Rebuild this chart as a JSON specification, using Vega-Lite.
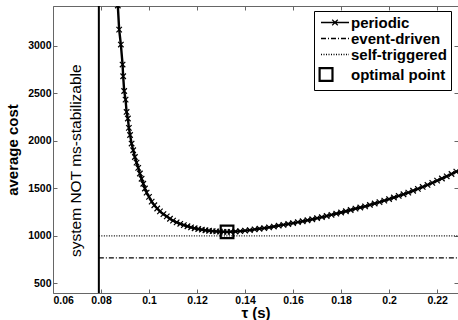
{
  "$schema": "https://vega.github.io/schema/vega-lite/v6.json",
  "width": 405,
  "height": 287,
  "autosize": {"type": "none"},
  "padding": {"left": 53, "top": 6, "right": 0, "bottom": 27},
  "background": "white",
  "config": {
    "view": {"stroke": null},
    "font": "Liberation Sans",
    "axis": {
      "labelFont": "Liberation Sans",
      "labelFontSize": 10.5,
      "labelFontWeight": "bold",
      "labelColor": "black",
      "titleFont": "Liberation Sans",
      "titleFontSize": 15,
      "titleFontWeight": "bold",
      "titleColor": "black",
      "domainColor": "#666",
      "tickColor": "#666",
      "tickSize": -4,
      "grid": false
    }
  },
  "datasets": {
    "periodic": [
      {"tau": 0.0866, "cost": 3560}, {"tau": 0.0870, "cost": 3420}, {"tau": 0.08756, "cost": 3167},
      {"tau": 0.08827, "cost": 3010}, {"tau": 0.08898, "cost": 2800}, {"tau": 0.08923, "cost": 2677},
      {"tau": 0.08965, "cost": 2522}, {"tau": 0.09023, "cost": 2432}, {"tau": 0.09065, "cost": 2302},
      {"tau": 0.09119, "cost": 2233}, {"tau": 0.09161, "cost": 2134}, {"tau": 0.0921, "cost": 2060},
      {"tau": 0.09274, "cost": 1970}, {"tau": 0.0934, "cost": 1900}, {"tau": 0.09411, "cost": 1829},
      {"tau": 0.0948, "cost": 1770}, {"tau": 0.0955, "cost": 1715}, {"tau": 0.0962, "cost": 1655},
      {"tau": 0.0969, "cost": 1600}, {"tau": 0.0976, "cost": 1548}, {"tau": 0.09829, "cost": 1498},
      {"tau": 0.0990, "cost": 1455}, {"tau": 0.1000, "cost": 1410}, {"tau": 0.1011, "cost": 1360},
      {"tau": 0.1022, "cost": 1322}, {"tau": 0.1034, "cost": 1288}, {"tau": 0.10455, "cost": 1257},
      {"tau": 0.1060, "cost": 1228}, {"tau": 0.1074, "cost": 1205}, {"tau": 0.10873, "cost": 1180},
      {"tau": 0.1100, "cost": 1160}, {"tau": 0.1115, "cost": 1142}, {"tau": 0.1130, "cost": 1127},
      {"tau": 0.1145, "cost": 1113}, {"tau": 0.1160, "cost": 1101}, {"tau": 0.1175, "cost": 1090},
      {"tau": 0.1190, "cost": 1080}, {"tau": 0.1205, "cost": 1072}, {"tau": 0.1220, "cost": 1065},
      {"tau": 0.1235, "cost": 1059}, {"tau": 0.1250, "cost": 1054}, {"tau": 0.1265, "cost": 1050},
      {"tau": 0.1280, "cost": 1047}, {"tau": 0.1295, "cost": 1045}, {"tau": 0.1310, "cost": 1043},
      {"tau": 0.1325, "cost": 1042}, {"tau": 0.1340, "cost": 1043}, {"tau": 0.1360, "cost": 1046},
      {"tau": 0.1380, "cost": 1050}, {"tau": 0.1400, "cost": 1055}, {"tau": 0.1420, "cost": 1061},
      {"tau": 0.1440, "cost": 1068}, {"tau": 0.1460, "cost": 1075}, {"tau": 0.1480, "cost": 1082},
      {"tau": 0.1500, "cost": 1090}, {"tau": 0.1520, "cost": 1098}, {"tau": 0.1540, "cost": 1107},
      {"tau": 0.1560, "cost": 1116}, {"tau": 0.1580, "cost": 1125}, {"tau": 0.1600, "cost": 1134},
      {"tau": 0.1620, "cost": 1144}, {"tau": 0.1640, "cost": 1154}, {"tau": 0.1660, "cost": 1164},
      {"tau": 0.1680, "cost": 1175}, {"tau": 0.1700, "cost": 1186}, {"tau": 0.1720, "cost": 1197},
      {"tau": 0.1740, "cost": 1209}, {"tau": 0.1760, "cost": 1221}, {"tau": 0.1780, "cost": 1233},
      {"tau": 0.1800, "cost": 1246}, {"tau": 0.1820, "cost": 1259}, {"tau": 0.1840, "cost": 1272},
      {"tau": 0.1860, "cost": 1286}, {"tau": 0.1880, "cost": 1298}, {"tau": 0.1900, "cost": 1310},
      {"tau": 0.1920, "cost": 1325}, {"tau": 0.1940, "cost": 1340}, {"tau": 0.1960, "cost": 1355},
      {"tau": 0.1980, "cost": 1371}, {"tau": 0.2000, "cost": 1387}, {"tau": 0.2020, "cost": 1403},
      {"tau": 0.2040, "cost": 1420}, {"tau": 0.2060, "cost": 1437}, {"tau": 0.2080, "cost": 1455},
      {"tau": 0.2100, "cost": 1474}, {"tau": 0.2120, "cost": 1494}, {"tau": 0.2140, "cost": 1514},
      {"tau": 0.2160, "cost": 1535}, {"tau": 0.2180, "cost": 1557}, {"tau": 0.2200, "cost": 1580},
      {"tau": 0.2220, "cost": 1603}, {"tau": 0.2240, "cost": 1626}, {"tau": 0.2260, "cost": 1650},
      {"tau": 0.2280, "cost": 1675}, {"tau": 0.2300, "cost": 1700}
    ],
    "levels": [
      {"series": "event-driven", "cost": 770},
      {"series": "self-triggered", "cost": 1000}
    ],
    "optimum": [
      {"series": "optimal point", "tau": 0.1325, "cost": 1042}
    ],
    "threshold": [
      {"tau": 0.0791, "label": "system NOT ms-stabilizable"}
    ]
  },
  "resolve": {"axis": {"x": "independent", "y": "independent"}},
  "layer": [
    {
      "data": {"name": "periodic"},
      "transform": [{"calculate": "'periodic'", "as": "series"}],
      "mark": {"type": "line", "color": "black", "strokeWidth": 2.4, "clip": true},
      "encoding": {
        "x": {
          "field": "tau", "type": "quantitative",
          "scale": {"domain": [0.06, 0.2287], "nice": false, "zero": false},
          "axis": {
            "orient": "bottom", "title": "τ (s)",
            "values": [0.06, 0.08, 0.1, 0.12, 0.14, 0.16, 0.18, 0.2, 0.22],
            "format": ".2~f", "labelPadding": 6, "titlePadding": 0
          }
        },
        "y": {
          "field": "cost", "type": "quantitative",
          "scale": {"domain": [400, 3415], "nice": false, "zero": false},
          "axis": {
            "orient": "left", "title": "average cost",
            "values": [500, 1000, 1500, 2000, 2500, 3000],
            "format": "d",
            "labelPadding": 6, "titlePadding": 7
          }
        },
        "strokeDash": {
          "field": "series", "type": "nominal",
          "scale": {
            "domain": ["periodic", "event-driven", "self-triggered", "optimal point"],
            "range": [[1, 0], [5, 2, 1, 2], [1, 1.5], [1, 0]]
          },
          "legend": {
            "title": null,
            "orient": "none",
            "legendX": 261,
            "legendY": 5,
            "direction": "vertical",
            "columns": 1,
            "strokeColor": "black",
            "fillColor": "white",
            "padding": 4,
            "rowPadding": 0,
            "labelFont": "Liberation Sans",
            "labelFontSize": 15,
            "labelFontWeight": "bold",
            "labelColor": "black",
            "symbolType": "stroke",
            "symbolSize": 784,
            "symbolStrokeColor": "black",
            "symbolStrokeWidth": 1.3,
            "encode": {
              "symbols": {
                "update": {
                  "x": {"value": 17},
                  "shape": {"signal": "datum.value === 'periodic' ? 'M-1,0H1M-0.2,-0.2L0.2,0.2M-0.2,0.2L0.2,-0.2' : (datum.value === 'optimal point' ? 'M-1.1,-0.46H-0.18V0.46H-1.1Z' : 'stroke')"},
                  "size": {"value": 784},
                  "strokeWidth": {"signal": "datum.value === 'optimal point' ? 2.2 : 1.3"},
                  "fill": {"value": "transparent"},
                  "stroke": {"value": "black"}
                }
              },
              "labels": {
                "update": {
                  "x": {"value": 33},
                  "align": {"value": "left"}
                }
              }
            }
          }
        }
      }
    },
    {
      "data": {"name": "periodic"},
      "mark": {
        "type": "point", "shape": "M-1,-1L1,1M-1,1L1,-1", "size": 30,
        "filled": false, "color": "black", "strokeWidth": 1.2, "opacity": 1, "clip": true
      },
      "encoding": {
        "x": {
          "field": "tau", "type": "quantitative",
          "axis": {"orient": "top", "title": null, "labels": false,
                   "values": [0.06, 0.08, 0.1, 0.12, 0.14, 0.16, 0.18, 0.2, 0.22]}
        },
        "y": {
          "field": "cost", "type": "quantitative",
          "axis": {"orient": "right", "title": null, "labels": false, "domain": false,
                   "values": [500, 1000, 1500, 2000, 2500, 3000]}
        }
      }
    },
    {
      "data": {"name": "levels"},
      "mark": {"type": "rule", "color": "black", "strokeWidth": 1.2, "clip": true},
      "encoding": {
        "x": {"datum": 0.0791, "type": "quantitative", "axis": null},
        "x2": {"datum": 0.2287},
        "y": {"field": "cost", "type": "quantitative", "axis": null},
        "strokeDash": {"field": "series", "type": "nominal", "legend": null}
      }
    },
    {
      "data": {"name": "threshold"},
      "mark": {"type": "rule", "color": "black", "strokeWidth": 2},
      "encoding": {
        "x": {"field": "tau", "type": "quantitative", "axis": null}
      }
    },
    {
      "data": {"name": "threshold"},
      "mark": {"type": "text", "angle": 270, "fontSize": 15.5, "font": "Liberation Sans", "color": "black", "align": "center", "baseline": "middle"},
      "encoding": {
        "x": {"datum": 0.0696, "type": "quantitative", "axis": null},
        "y": {"datum": 1790, "type": "quantitative", "axis": null},
        "text": {"field": "label"}
      }
    },
    {
      "data": {"name": "optimum"},
      "mark": {"type": "point", "shape": "square", "size": 160, "filled": false, "color": "black", "strokeWidth": 2.2, "opacity": 1},
      "encoding": {
        "x": {"field": "tau", "type": "quantitative", "axis": null},
        "y": {"field": "cost", "type": "quantitative", "axis": null}
      }
    }
  ]
}
